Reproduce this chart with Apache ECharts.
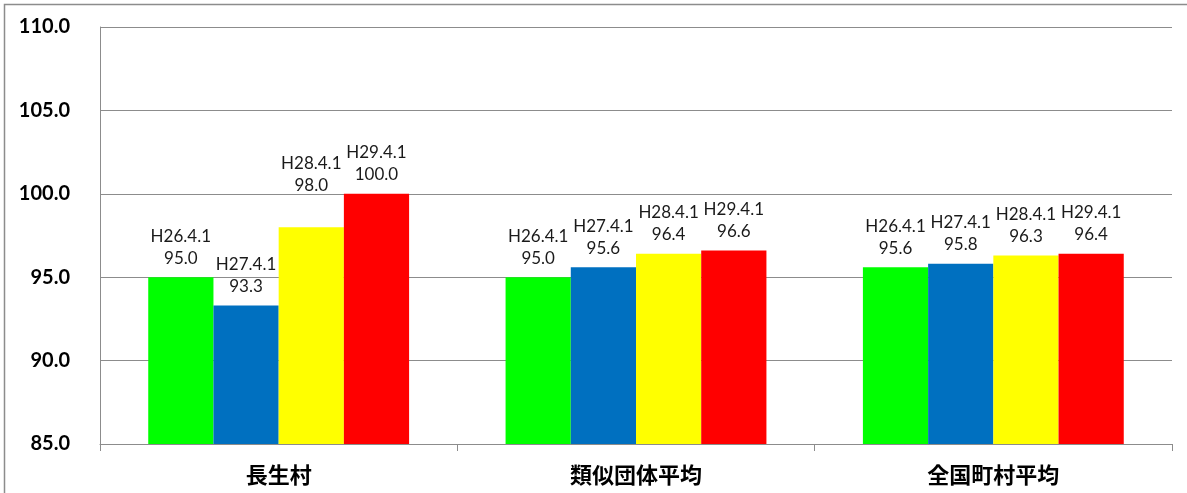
<!DOCTYPE html>
<html><head><meta charset="utf-8">
<script src="https://cdn.jsdelivr.net/npm/echarts@6/dist/echarts.min.js"></script>
<style>html,body{margin:0;padding:0;background:#fff}#c{width:1187px;height:493px}</style>
</head><body><div id="c"></div>
<script>
const categories = ['長生村', '類似団体平均', '全国町村平均'];
const seriesNames = ['H26.4.1', 'H27.4.1', 'H28.4.1', 'H29.4.1'];
const h26 = [95.0, 95.0, 95.6];
const h27 = [93.3, 95.6, 95.8];
const h28 = [98.0, 96.4, 96.3];
const h29 = [100.0, 96.6, 96.4];
const colors = ['#00FF00', '#0070C0', '#FFFF00', '#FF0000'];
const values = [h26, h27, h28, h29];

const chart = echarts.init(document.getElementById('c'));
chart.setOption({
  animation: false,
  graphic: [{type:'rect', shape:{x:4.5,y:4.5,width:1200,height:520}, style:{fill:'none', stroke:'#8c8c8c', lineWidth:1.5}, z:-1}],
  grid: {left:100, right:15, top:27, bottom:49},
  xAxis: {
    type:'category', data:categories,
    axisLine:{lineStyle:{color:'#8c8c8c', width:1}},
    axisTick:{show:true, length:7, lineStyle:{color:'#8c8c8c'}},
    axisLabel:{color:'#000', fontSize:22, fontWeight:'bold', margin:20, fontFamily:'Noto Sans CJK JP'}
  },
  yAxis: {
    type:'value', min:85, max:110, interval:5,
    axisLine:{show:true, lineStyle:{color:'#8c8c8c'}},
    axisTick:{show:false},
    splitLine:{lineStyle:{color:'#8c8c8c', width:1}},
    axisLabel:{color:'#000', fontSize:20, fontWeight:'bold', margin:30, fontFamily:'Lato', formatter:v=>v.toFixed(1)}
  },
  series: seriesNames.map((n,i)=>({
    name:n, type:'bar', barCategoryGap:'27%', barGap:'0%',
    data: values[i].map((v,j)=> (i===2 && j===0) ? {value:v, label:{offset:[0,-23]}} : v),
    itemStyle:{color:colors[i]},
    label:{show:true, position:'top', distance:8, color:'#1a1a1a', fontSize:17, lineHeight:22, fontFamily:'Lato',
      formatter:p=>p.seriesName+'\n'+p.value.toFixed(1)}
  }))
});
</script></body></html>
